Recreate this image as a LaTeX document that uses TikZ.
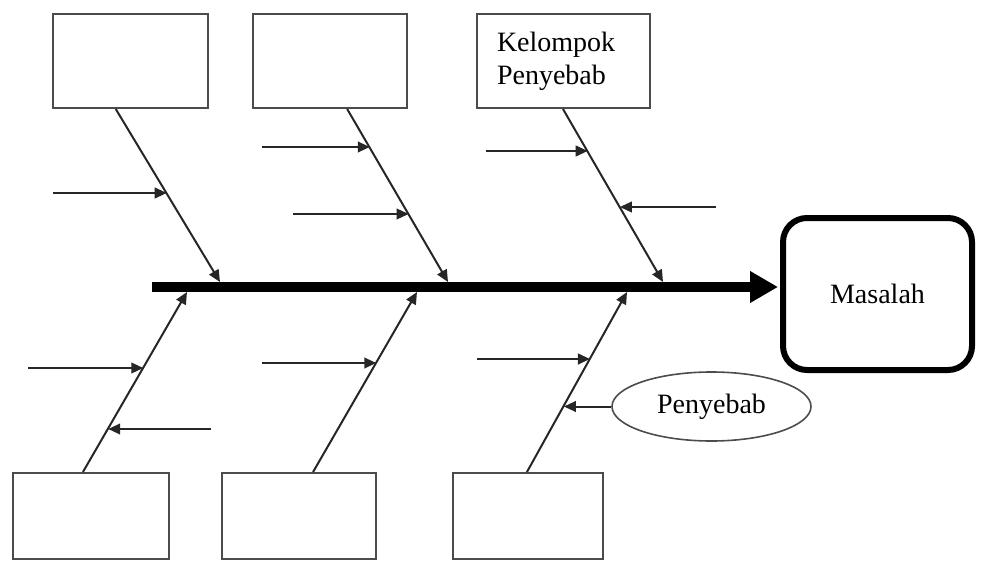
\documentclass[tikz,border=0pt]{standalone}
\usepackage{fontspec}
\setmainfont{Liberation Serif}
\usetikzlibrary{arrows.meta,shapes.geometric,calc}
\begin{document}
\begin{tikzpicture}[x=0.75pt,y=-0.75pt,
  box/.style={draw=black!70,line width=1.5pt,inner sep=0pt,minimum height=70.5pt},
  lowbox/.style={draw=black!70,line width=1.5pt,inner sep=0pt,minimum height=64.5pt},
  lbl/.style={font=\fontsize{21}{25}\selectfont},
  bone/.style={draw=black!85,line width=1.5pt,-{Triangle[length=9pt,width=8pt]}},
  cause/.style={draw=black!85,line width=1.5pt,-{Triangle[length=9pt,width=8pt]}},
  spine/.style={draw=black,line width=7.5pt,-{Triangle[length=21pt,width=22.5pt]}}]
\useasboundingbox (0,0) rectangle (984,560);
% top boxes
\node[box,minimum width=116.25pt] (g1) at (130.5,61) {};
\node[box,minimum width=115.5pt] (g2) at (330,61) {};
\node[box,lbl,minimum width=129.75pt,text width=99.75pt,align=left] (g3) at (563.5,61) {Kelompok\\Penyebab};
% bottom boxes
\node[lowbox,minimum width=117pt] (g4) at (91,516) {};
\node[lowbox,minimum width=115.5pt] (g5) at (299,516) {};
\node[lowbox,minimum width=112.5pt] (g6) at (528,516) {};
% problem
\node[draw=black,line width=4.5pt,rounded corners=18pt,minimum width=141.75pt,minimum height=114pt,lbl] (mas) at (877.5,294) {Masalah};
% cause ellipse
\node[ellipse,draw=black!70,line width=1.2pt,minimum width=149.25pt,minimum height=51.75pt,inner sep=0pt,lbl] (pe) at (711.5,406.5) {Penyebab};
% spine
\coordinate (sL) at (152,287);
\draw[spine,shorten >=1.5pt] (sL) -- (sL -| mas.west);
% branch end points
\coordinate (b1s) at ($(g1.south west)!0.406!(g1.south east)$);
\coordinate (b2s) at ($(g2.south west)!0.61!(g2.south east)$);
\coordinate (b3s) at ($(g3.south west)!0.497!(g3.south east)$);
\coordinate (b1e) at (220,282);
\coordinate (b2e) at (448,282);
\coordinate (b3e) at (663,282);
\coordinate (B1s) at ($(g4.north west)!0.449!(g4.north east)$);
\coordinate (B2s) at ($(g5.north west)!0.59!(g5.north east)$);
\coordinate (B3s) at ($(g6.north west)!0.493!(g6.north east)$);
\coordinate (B1e) at (187,292);
\coordinate (B2e) at (417,292);
\coordinate (B3e) at (627,292);
\draw[bone] (b1s) -- (b1e);
\draw[bone] (b2s) -- (b2e);
\draw[bone] (b3s) -- (b3e);
\draw[bone] (B1s) -- (B1e);
\draw[bone] (B2s) -- (B2e);
\draw[bone] (B3s) -- (B3e);
% points on the bones
\coordinate (p1) at ($(b1s)!0.489!(b1e)$);
\coordinate (p2) at ($(b2s)!0.224!(b2e)$);
\coordinate (p3) at ($(b2s)!0.609!(b2e)$);
\coordinate (p4) at ($(b3s)!0.247!(b3e)$);
\coordinate (p5) at ($(b3s)!0.569!(b3e)$);
\coordinate (q1) at ($(B1s)!0.580!(B1e)$);
\coordinate (q2) at ($(B1s)!0.243!(B1e)$);
\coordinate (q3) at ($(B2s)!0.608!(B2e)$);
\coordinate (q4) at ($(B3s)!0.630!(B3e)$);
\coordinate (q5) at ($(B3s)!0.37!(B3e)$);
% cause arrows (top)
\coordinate (t1) at (53,193);
\coordinate (t2) at (262,147);
\coordinate (t3) at (293,214);
\coordinate (t4) at (486,151);
\coordinate (t5) at (716,207);
\draw[cause] (t1) -- (t1 -| p1);
\draw[cause] (t2) -- (t2 -| p2);
\draw[cause] (t3) -- (t3 -| p3);
\draw[cause] (t4) -- (t4 -| p4);
\draw[cause] (t5) -- (t5 -| p5);
% cause arrows (bottom)
\coordinate (u1) at (28,368);
\coordinate (u2) at (211,429);
\coordinate (u3) at (262,363);
\coordinate (u4) at (477,359);
\draw[cause] (u1) -- (u1 -| q1);
\draw[cause] (u2) -- (u2 -| q2);
\draw[cause] (u3) -- (u3 -| q3);
\draw[cause] (u4) -- (u4 -| q4);
\draw[cause] (pe.west) -- (pe.west -| q5);
\end{tikzpicture}
\end{document}
